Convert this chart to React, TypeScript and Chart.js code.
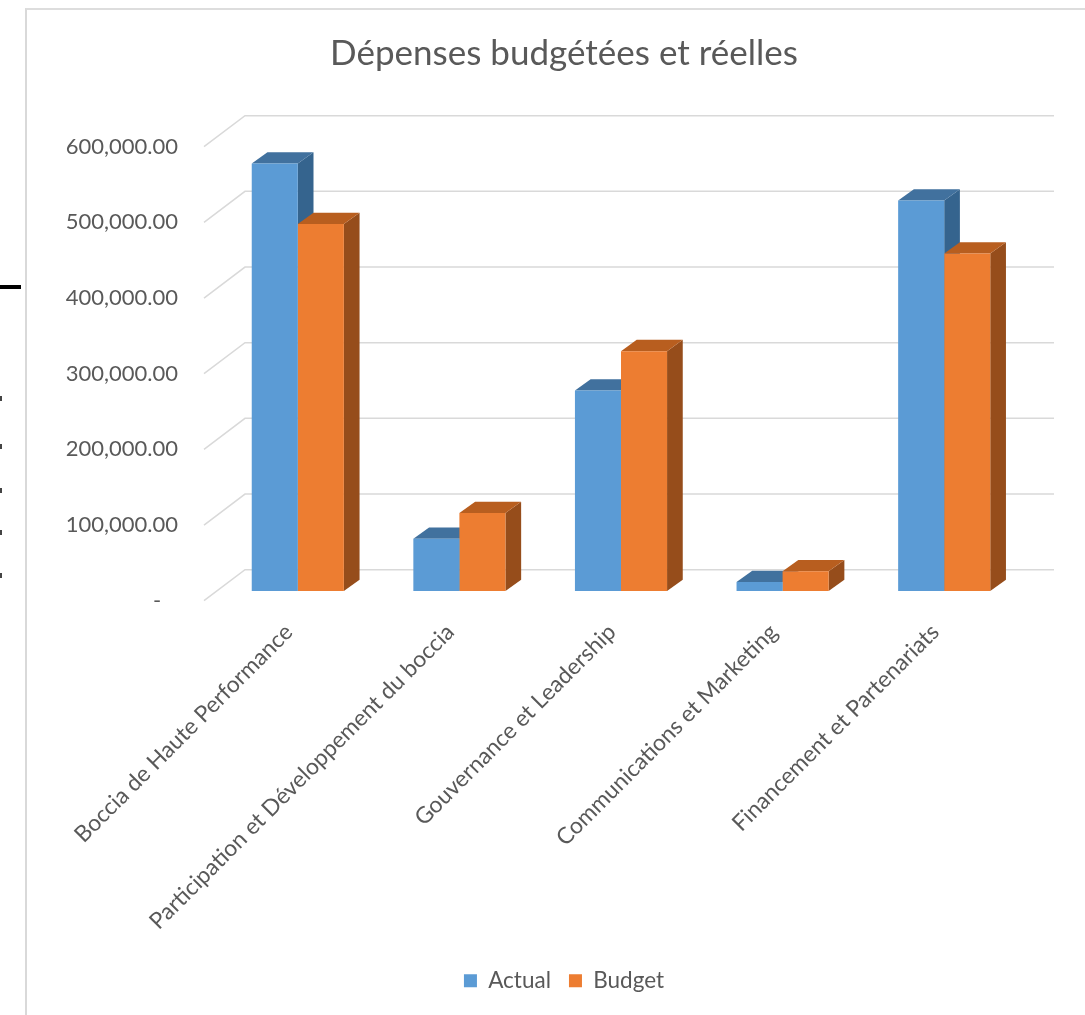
import React, { useEffect, useRef } from "react";
import { Chart, registerables } from "chart.js";

Chart.register(...registerables);

const categories = [
  "Boccia de Haute Performance",
  "Participation et Développement du boccia",
  "Gouvernance et Leadership",
  "Communications et Marketing",
  "Financement et Partenariats",
];
const actualValues = [565000, 69000, 265000, 12000, 516000];
const budgetValues = [485000, 103000, 317000, 26000, 446000];
const seriesNames = ["Actual", "Budget"];
const chartTitle = "Dépenses budgétées et réelles";

const FRONT_COLORS = ["#5B9BD5", "#ED7D31"];
const TOP_COLORS = ["#41719E", "#B85E1F"];
const SIDE_COLORS = ["#35648E", "#964D1B"];
const TEXT = "#595959";
const FONT = "Lato, Carlito, sans-serif";

const AXIS_MAX = 600000;
const AXIS_STEP = 100000;
const FLOOR_LIFT = 12800; // bars stand mid-way into the 3D floor

const BAR_DX = 15.7;
const BAR_DY = -11.3;
const WALL_DX = 41;
const WALL_DY = -31;
const WALL_LEFT_INSET = 13;
const WALL_RIGHT_EXT = 29;
const AREA_BOTTOM = 600.7;
const PAD_BOTTOM = 13;

const depthPlugin = {
  id: "depth3d",
  beforeDatasetsDraw(chart: any) {
    const { ctx, chartArea } = chart;
    const axis = chart.scales.yLabels;
    ctx.save();
    ctx.strokeStyle = "#D9D9D9";
    ctx.lineWidth = 1.5;
    axis.ticks.forEach((t: any) => {
      const y = axis.getPixelForValue(t.value);
      ctx.beginPath();
      ctx.moveTo(chartArea.left - WALL_LEFT_INSET, y);
      ctx.lineTo(chartArea.left - WALL_LEFT_INSET + WALL_DX, y + WALL_DY);
      ctx.lineTo(chartArea.right + WALL_RIGHT_EXT, y + WALL_DY);
      ctx.stroke();
    });
    chart.data.datasets.forEach((_: any, di: number) => {
      const meta = chart.getDatasetMeta(di);
      meta.data.forEach((bar: any) => {
        const l = bar.x - bar.width / 2;
        const r = bar.x + bar.width / 2;
        const top = bar.y;
        const bottom = bar.base;
        ctx.fillStyle = SIDE_COLORS[di];
        ctx.beginPath();
        ctx.moveTo(r, top);
        ctx.lineTo(r + BAR_DX, top + BAR_DY);
        ctx.lineTo(r + BAR_DX, bottom + BAR_DY);
        ctx.lineTo(r, bottom);
        ctx.closePath();
        ctx.fill();
        ctx.fillStyle = TOP_COLORS[di];
        ctx.beginPath();
        ctx.moveTo(l, top);
        ctx.lineTo(l + BAR_DX, top + BAR_DY);
        ctx.lineTo(r + BAR_DX, top + BAR_DY);
        ctx.lineTo(r, top);
        ctx.closePath();
        ctx.fill();
      });
    });
    ctx.restore();
  },
};

const sideMarks = [398, 446, 490, 532, 575];

export default function App() {
  const ref = useRef<HTMLCanvasElement>(null);
  useEffect(() => {
    document.body.style.margin = "0";
    document.body.style.overflow = "hidden";
    const chart = new Chart(ref.current as HTMLCanvasElement, {
      type: "bar",
      plugins: [depthPlugin],
      data: {
        labels: categories,
        datasets: [
          { label: seriesNames[0], data: actualValues, backgroundColor: FRONT_COLORS[0], categoryPercentage: 0.57, barPercentage: 1, yAxisID: "y" },
          { label: seriesNames[1], data: budgetValues, backgroundColor: FRONT_COLORS[1], categoryPercentage: 0.57, barPercentage: 1, yAxisID: "y" },
        ],
      },
      options: {
        animation: false,
        responsive: false,
        devicePixelRatio: 1,
        layout: { padding: { left: 0, right: 0, top: 0, bottom: PAD_BOTTOM } },
        plugins: {
          tooltip: { enabled: false },
          title: {
            display: true,
            text: chartTitle,
            color: TEXT,
            font: { family: FONT, size: 35, weight: "normal" },
            padding: { top: 33, bottom: 71.7 },
          },
          legend: {
            position: "bottom",
            labels: {
              color: TEXT,
              font: { family: FONT, size: 22.5 },
              boxWidth: 13,
              boxHeight: 13,
              padding: 18,
            },
          },
        },
        scales: {
          x: {
            grid: { display: false, drawTicks: false },
            border: { display: false },
            ticks: { autoSkip: false, maxRotation: 45, minRotation: 45, color: TEXT, font: { family: FONT, size: 22.8 }, padding: 18, labelOffset: -9 },
            afterFit(scale: any) {
              const legendH = scale.chart.legend ? scale.chart.legend.height : 0;
              scale.height = 1015 - AREA_BOTTOM - legendH - PAD_BOTTOM;
            },
          },
          y: {
            display: false,
            min: -FLOOR_LIFT,
            max: AXIS_MAX - FLOOR_LIFT,
          },
          yLabels: {
            position: "left",
            min: 0,
            max: AXIS_MAX,
            grid: { display: false, drawTicks: false },
            border: { display: false },
            ticks: {
              stepSize: AXIS_STEP,
              color: TEXT,
              font: { family: FONT, size: 22 },
              padding: 39,
              callback: (v: any) =>
                Number(v) === 0
                  ? "-\u00a0\u00a0\u00a0"
                  : Number(v).toLocaleString("en-US", { minimumFractionDigits: 2, maximumFractionDigits: 2 }),
            },
            afterFit(scale: any) {
              scale.width = 174;
            },
          },
          rightSpacer: {
            position: "right",
            min: 0,
            max: 1,
            grid: { display: false, drawTicks: false },
            border: { display: false },
            ticks: { display: false },
            afterFit(scale: any) {
              scale.width = 60;
            },
          },
        },
      } as any,
    });
    return () => chart.destroy();
  }, []);

  return (
    <div style={{ position: "absolute", left: 0, top: 0, width: 1085, height: 1015, overflow: "hidden", background: "#fff" }}>
      <div style={{ position: "absolute", left: 25, top: 8, right: 0, bottom: 0, borderLeft: "2px solid #D9D9D9", borderTop: "2px solid #DDDDDD" }} />
      <div style={{ position: "absolute", left: 0, top: 285, width: 21, height: 4, background: "#000" }} />
      {sideMarks.map((y) => (
        <div key={y} style={{ position: "absolute", left: 0, top: y - 2, width: 2, height: 5, background: "#444" }} />
      ))}
      <canvas ref={ref} width={1042} height={1015} style={{ position: "absolute", left: 43, top: 0 }} />
    </div>
  );
}
